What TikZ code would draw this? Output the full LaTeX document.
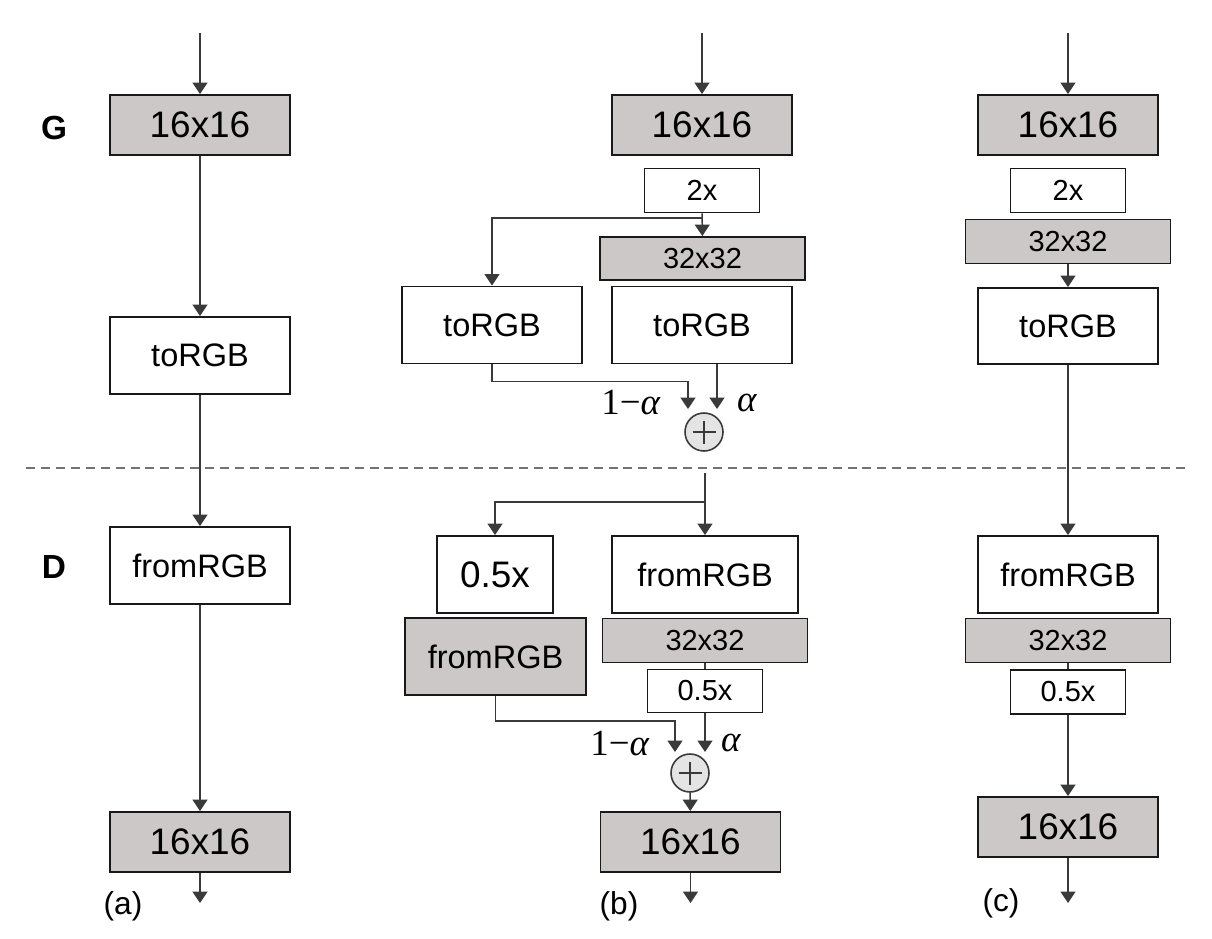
\documentclass[tikz,border=0pt]{standalone}
\usepackage[no-math]{fontspec}
\setmainfont{Liberation Sans}
\newfontfamily\weightfont{Liberation Serif}
\usepackage{amsmath}
\usetikzlibrary{arrows.meta,calc}
\definecolor{layergray}{RGB}{204,200,199}
\definecolor{sumgray}{RGB}{228,228,228}
\definecolor{wiregray}{RGB}{58,58,58}
\tikzset{
  flow/.style={-{Triangle[width=8.5pt,length=6.5pt]}, line width=0.85pt, draw=wiregray},
  wire/.style={line width=0.85pt, draw=wiregray},
  block/.style={draw=black!90, line width=1.1pt, rectangle, inner sep=0pt, fill=white,
    minimum width=3.6cm, minimum height=1.54cm, font=\fontsize{18.5}{22}\selectfont},
  layer/.style={block, fill=layergray, minimum height=1.2cm, font=\fontsize{21}{24}\selectfont},
  scaler/.style={block, minimum width=2.3cm, minimum height=0.88cm, font=\fontsize{16.5}{19}\selectfont},
  thinlayer/.style={scaler, fill=layergray, minimum width=4.1cm},
  sum/.style={
    draw=wiregray, line width=0.9pt, circle, minimum size=0.76cm, inner sep=0pt, fill=sumgray,
    path picture={
      \draw[wiregray, line width=0.8pt]
        ($(path picture bounding box.center)+(-0.23cm,0)$) -- ($(path picture bounding box.center)+(0.23cm,0)$)
        ($(path picture bounding box.center)+(0,-0.23cm)$) -- ($(path picture bounding box.center)+(0,0.23cm)$);
    }
  },
  weight/.style={font=\fontsize{21}{24}\selectfont\weightfont},
  caption/.style={font=\fontsize{18}{20}\selectfont},
  side/.style={font=\fontsize{19}{22}\selectfont\bfseries}
}
\begin{document}
\begin{tikzpicture}[x=0.2mm, y=-0.2mm]
  \useasboundingbox (0,0) rectangle (1212,939);

  \node[side] (gen) at (54,128) {G};
  \node[side] (dis) at (54,567) {D};
  \draw[black!55, line width=0.6pt, dash pattern=on 5.1pt off 3.4pt] (26,468) -- (1190,468);

  % (a)
  \coordinate (ain) at (200,33);
  \node[layer] (a16) at (200,125) {16x16};
  \node[block] (atorgb) at (200,355.5) {toRGB};
  \node[block] (afrom) at (200,565.5) {fromRGB};
  \node[layer] (aout) at (200,842) {16x16};
  \coordinate (aend) at (200,903);
  \node[caption] (alab) at (123,906) {(a)};

  \draw[flow] (ain) -- (a16);
  \draw[flow] (a16) -- (atorgb);
  \draw[flow] (atorgb) -- (afrom);
  \draw[flow] (afrom) -- (aout);
  \draw[flow] (aout) -- (aend);

  % (b)
  \coordinate (bin) at (702,33);
  \node[layer] (b16) at (702,125) {16x16};
  \node[scaler] (b2x) at (702,190.5) {2x};
  \node[thinlayer, minimum height=0.86cm] (b32) at (702.5,258.5) {32x32};
  \node[block] (btorgbL) at (492,325) {toRGB};
  \node[block] (btorgbR) at (702,325) {toRGB};
  \coordinate (bsplit) at (702,218);
  \coordinate (bmixL) at (688,409);
  \coordinate (bmixR) at (717,409);
  \node[sum] (bsum) at (704,432) {};
  \node[weight] (bwL) at (631,403) {1−\textit{α}};
  \node[weight] (bwR) at (747,403) {\textit{α}};

  \draw[flow] (bin) -- (b16);
  \draw[flow] (b2x) -- (b32);
  \draw[flow] (bsplit) -| (btorgbL.north);
  \draw[flow] (btorgbL.south) -- ++(0,17) -| (bmixL);
  \draw[flow] (btorgbR.south -| bmixR) -- (bmixR);

  \coordinate (dtop) at (705,473);
  \coordinate (dsplit) at (705,502);
  \node[block, minimum width=2.32cm, font=\fontsize{21}{24}\selectfont] (b05) at (495,574.5) {0.5x};
  \node[block, minimum width=3.72cm] (bfromR) at (705,574.5) {fromRGB};
  \node[layer, minimum width=3.62cm, minimum height=1.54cm, font=\fontsize{18.5}{22}\selectfont] (bfromL) at (495.5,656.5) {fromRGB};
  \node[thinlayer] (b32low) at (705,640.5) {32x32};
  \node[scaler, minimum height=0.86cm] (b05s) at (705,691) {0.5x};
  \coordinate (dmixL) at (675,752);
  \coordinate (dmixR) at (705,752);
  \node[sum] (dsum) at (690,773) {};
  \node[layer] (bout) at (690.5,842) {16x16};
  \coordinate (bend) at (690.5,903);
  \node[weight] (dwL) at (620,743) {1−\textit{α}};
  \node[weight] (dwR) at (731,743) {\textit{α}};
  \node[caption] (blab) at (619,906) {(b)};

  \draw[flow] (dtop) -- (bfromR);
  \draw[flow] (dsplit) -| (b05.north);
  \draw[wire] (b32low) -- (b05s);
  \draw[flow] (bfromL.south) -- ++(0,25) -| (dmixL);
  \draw[flow] (b05s) -- (dmixR);
  \draw[flow] (dsum) -- (bout);
  \draw[flow] (bout) -- (bend);

  % (c)
  \coordinate (cin) at (1068,33);
  \node[layer] (c16) at (1068,125) {16x16};
  \node[scaler] (c2x) at (1068,190.5) {2x};
  \node[thinlayer] (c32) at (1068,241.5) {32x32};
  \node[block, minimum height=1.52cm] (ctorgb) at (1068,326) {toRGB};
  \node[block] (cfrom) at (1068,574.5) {fromRGB};
  \node[thinlayer] (c32low) at (1068,640.5) {32x32};
  \node[scaler] (c05) at (1068,692) {0.5x};
  \node[layer] (cout) at (1068,827) {16x16};
  \coordinate (cend) at (1068,903);
  \node[caption] (clab) at (1001,903) {(c)};

  \draw[flow] (cin) -- (c16);
  \draw[flow] (c32) -- (ctorgb);
  \draw[flow] (ctorgb) -- (cfrom);
  \draw[wire] (c32low) -- (c05);
  \draw[flow] (c05) -- (cout);
  \draw[flow] (cout) -- (cend);
\end{tikzpicture}
\end{document}
